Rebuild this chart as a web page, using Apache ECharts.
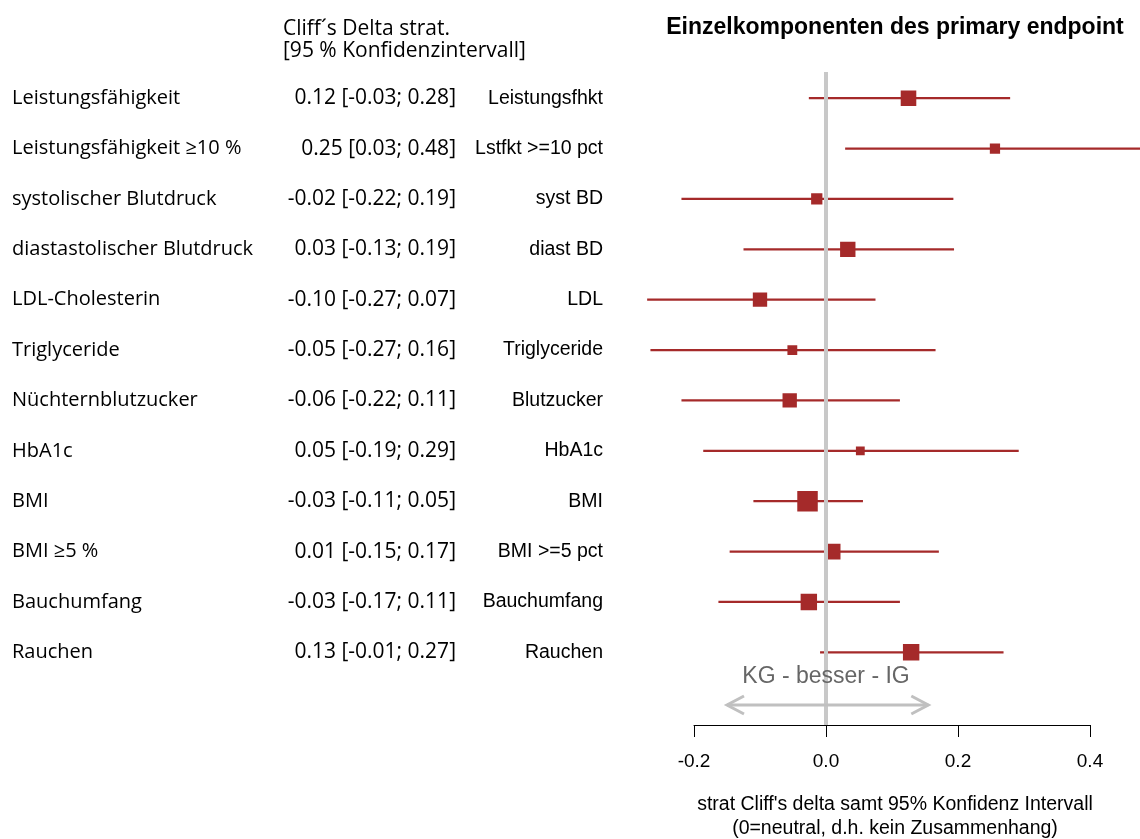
<!DOCTYPE html>
<html><head><meta charset="utf-8">
<script src="https://cdn.jsdelivr.net/npm/echarts@6/dist/echarts.min.js"></script>
<style>html,body{margin:0;padding:0;background:#fff}#c{width:1140px;height:839px}</style>
</head><body><div id="c"></div>
<script>
// ---- data ----
const labelsDe = ['Leistungsfähigkeit','Leistungsfähigkeit ≥10 %','systolischer Blutdruck','diastastolischer Blutdruck','LDL-Cholesterin','Triglyceride','Nüchternblutzucker','HbA1c','BMI','BMI ≥5 %','Bauchumfang','Rauchen'];
const ciText = ['0.12 [-0.03; 0.28]','0.25 [0.03; 0.48]','-0.02 [-0.22; 0.19]','0.03 [-0.13; 0.19]','-0.10 [-0.27; 0.07]','-0.05 [-0.27; 0.16]','-0.06 [-0.22; 0.11]','0.05 [-0.19; 0.29]','-0.03 [-0.11; 0.05]','0.01 [-0.15; 0.17]','-0.03 [-0.17; 0.11]','0.13 [-0.01; 0.27]'];
const shortLabels = ['Leistungsfhkt','Lstfkt >=10 pct','syst BD','diast BD','LDL','Triglyceride','Blutzucker','HbA1c','BMI','BMI >=5 pct','Bauchumfang','Rauchen'];
const estimate = [0.125, 0.256, -0.014, 0.033, -0.100, -0.051, -0.055, 0.052, -0.028, 0.010, -0.026, 0.129];
const lower    = [-0.026, 0.029, -0.219, -0.125, -0.271, -0.266, -0.219, -0.186, -0.110, -0.146, -0.163, -0.009];
const upper    = [0.279, 0.482, 0.193, 0.194, 0.075, 0.166, 0.112, 0.292, 0.056, 0.171, 0.112, 0.269];
const weight   = [0.76, 0.50, 0.55, 0.75, 0.70, 0.48, 0.70, 0.43, 1.00, 0.77, 0.80, 0.80];
const xTicks = [-0.2, 0.0, 0.2, 0.4];
const titleText = 'Einzelkomponenten des primary endpoint';
const headerText = 'Cliff´s Delta strat.\n[95 % Konfidenzintervall]';
const axisTitle = "strat Cliff's delta samt 95% Konfidenz Intervall\n(0=neutral, d.h. kein Zusammenhang)";
const directionText = 'KG - besser - IG';

const RED = '#A52A2A';
const chart = echarts.init(document.getElementById('c'), null, {renderer:'canvas'});
const rows = estimate.map((e,i)=>[i, e, lower[i], upper[i], weight[i]]);

const option = {
  animation:false,
  backgroundColor:'#fff',
  grid:[
    {left:640, right:0, top:73, height:604.5, outerBoundsMode:'none', containLabel:false},
    {left:694, width:396, top:72, height:653, outerBoundsMode:'none', containLabel:false}
  ],
  xAxis:[
    {gridIndex:0, type:'value', min:-0.281818, max:0.475758, show:false},
    {gridIndex:1, type:'value', min:xTicks[0], max:xTicks[xTicks.length-1], interval:0.2,
      axisLine:{show:true, lineStyle:{color:'#000', width:1}},
      axisTick:{show:true, length:12, lineStyle:{color:'#000'}},
      splitLine:{show:false},
      axisLabel:{margin:27, fontFamily:'Liberation Sans, Arial', fontSize:19, color:'#000',
        formatter:v=>v.toFixed(1)},
      name:axisTitle, nameLocation:'middle', nameGap:68,
      nameTextStyle:{fontFamily:'Liberation Sans, Arial', fontSize:19.5, color:'#000', lineHeight:24, padding:[0,0,0,6]}
    }
  ],
  yAxis:[
    {gridIndex:0, type:'category', inverse:true, data:labelsDe,
      axisLine:{show:false}, axisTick:{show:false}, splitLine:{show:false},
      axisLabel:{interval:0, align:'left', margin:628, fontFamily:'Open Sans', fontSize:20, color:'#000'}},
    {gridIndex:0, type:'category', inverse:true, data:ciText, position:'left', offset:0,
      axisLine:{show:false}, axisTick:{show:false}, splitLine:{show:false},
      axisLabel:{interval:0, align:'right', margin:184, fontFamily:'Open Sans', fontSize:21, color:'#000'}},
    {gridIndex:0, type:'category', inverse:true, data:shortLabels, position:'left', offset:0,
      axisLine:{show:false}, axisTick:{show:false}, splitLine:{show:false},
      axisLabel:{interval:0, align:'right', margin:37, fontFamily:'Liberation Sans, Arial', fontSize:19.5, color:'#000'}},
    {gridIndex:1, type:'value', min:0, max:1, show:false}
  ],
  series:[
    {type:'line', xAxisIndex:1, yAxisIndex:3, data:[], z:1, silent:true,
      markLine:{symbol:['none','none'], silent:true, label:{show:false},
        lineStyle:{color:'#c8c8c8', width:4, type:'solid'}, data:[{xAxis:0}]}},
    {type:'custom', xAxisIndex:0, yAxisIndex:0, z:3, clip:true, data:rows,
      encode:{x:[1,2,3], y:0},
      renderItem:function(params, api){
        const y = api.value(0);
        const pLo = api.coord([api.value(2), y]);
        const pHi = api.coord([api.value(3), y]);
        const pE = api.coord([api.value(1), y]);
        const s = api.value(4)*20.5;
        return {type:'group', children:[
          {type:'line', shape:{x1:pLo[0], y1:pLo[1], x2:pHi[0], y2:pHi[1]},
            style:{stroke:RED, lineWidth:2.2}},
          {type:'rect', shape:{x:pE[0]-s/2, y:pE[1]-s/2, width:s, height:s},
            style:{fill:RED}}
        ]};
      }}
  ]
};
chart.setOption(option);

// annotations: positions from the x-axis scale
const x0 = chart.convertToPixel({xAxisIndex:1}, 0);
const xl = chart.convertToPixel({xAxisIndex:1}, -0.15);
const xr = chart.convertToPixel({xAxisIndex:1}, 0.155);
const ya = 705, gy = 677;
chart.setOption({graphic:[
  {type:'text', x:895, y:28, style:{text:titleText, fontFamily:'Liberation Sans, Arial', fontWeight:'bold', fontSize:23, fill:'#000', align:'center', verticalAlign:'middle'}},
  {type:'text', x:283, y:18, style:{text:headerText, fontFamily:'Open Sans', fontSize:21, lineHeight:22, fill:'#000'}},
  {type:'text', x:x0, y:gy, style:{text:directionText, fontFamily:'Liberation Sans, Arial', fontSize:23, fill:'#666', align:'center', verticalAlign:'middle'}, z:5},
  {type:'polyline', shape:{points:[[xl,ya],[xr,ya]]}, style:{stroke:'#c0c0c0', lineWidth:3}, z:5},
  {type:'polyline', shape:{points:[[xl+17,ya-9],[xl,ya],[xl+17,ya+9]]}, style:{stroke:'#c0c0c0', lineWidth:3, fill:null}, z:5},
  {type:'polyline', shape:{points:[[xr-17,ya-9],[xr,ya],[xr-17,ya+9]]}, style:{stroke:'#c0c0c0', lineWidth:3, fill:null}, z:5}
]});
</script></body></html>
